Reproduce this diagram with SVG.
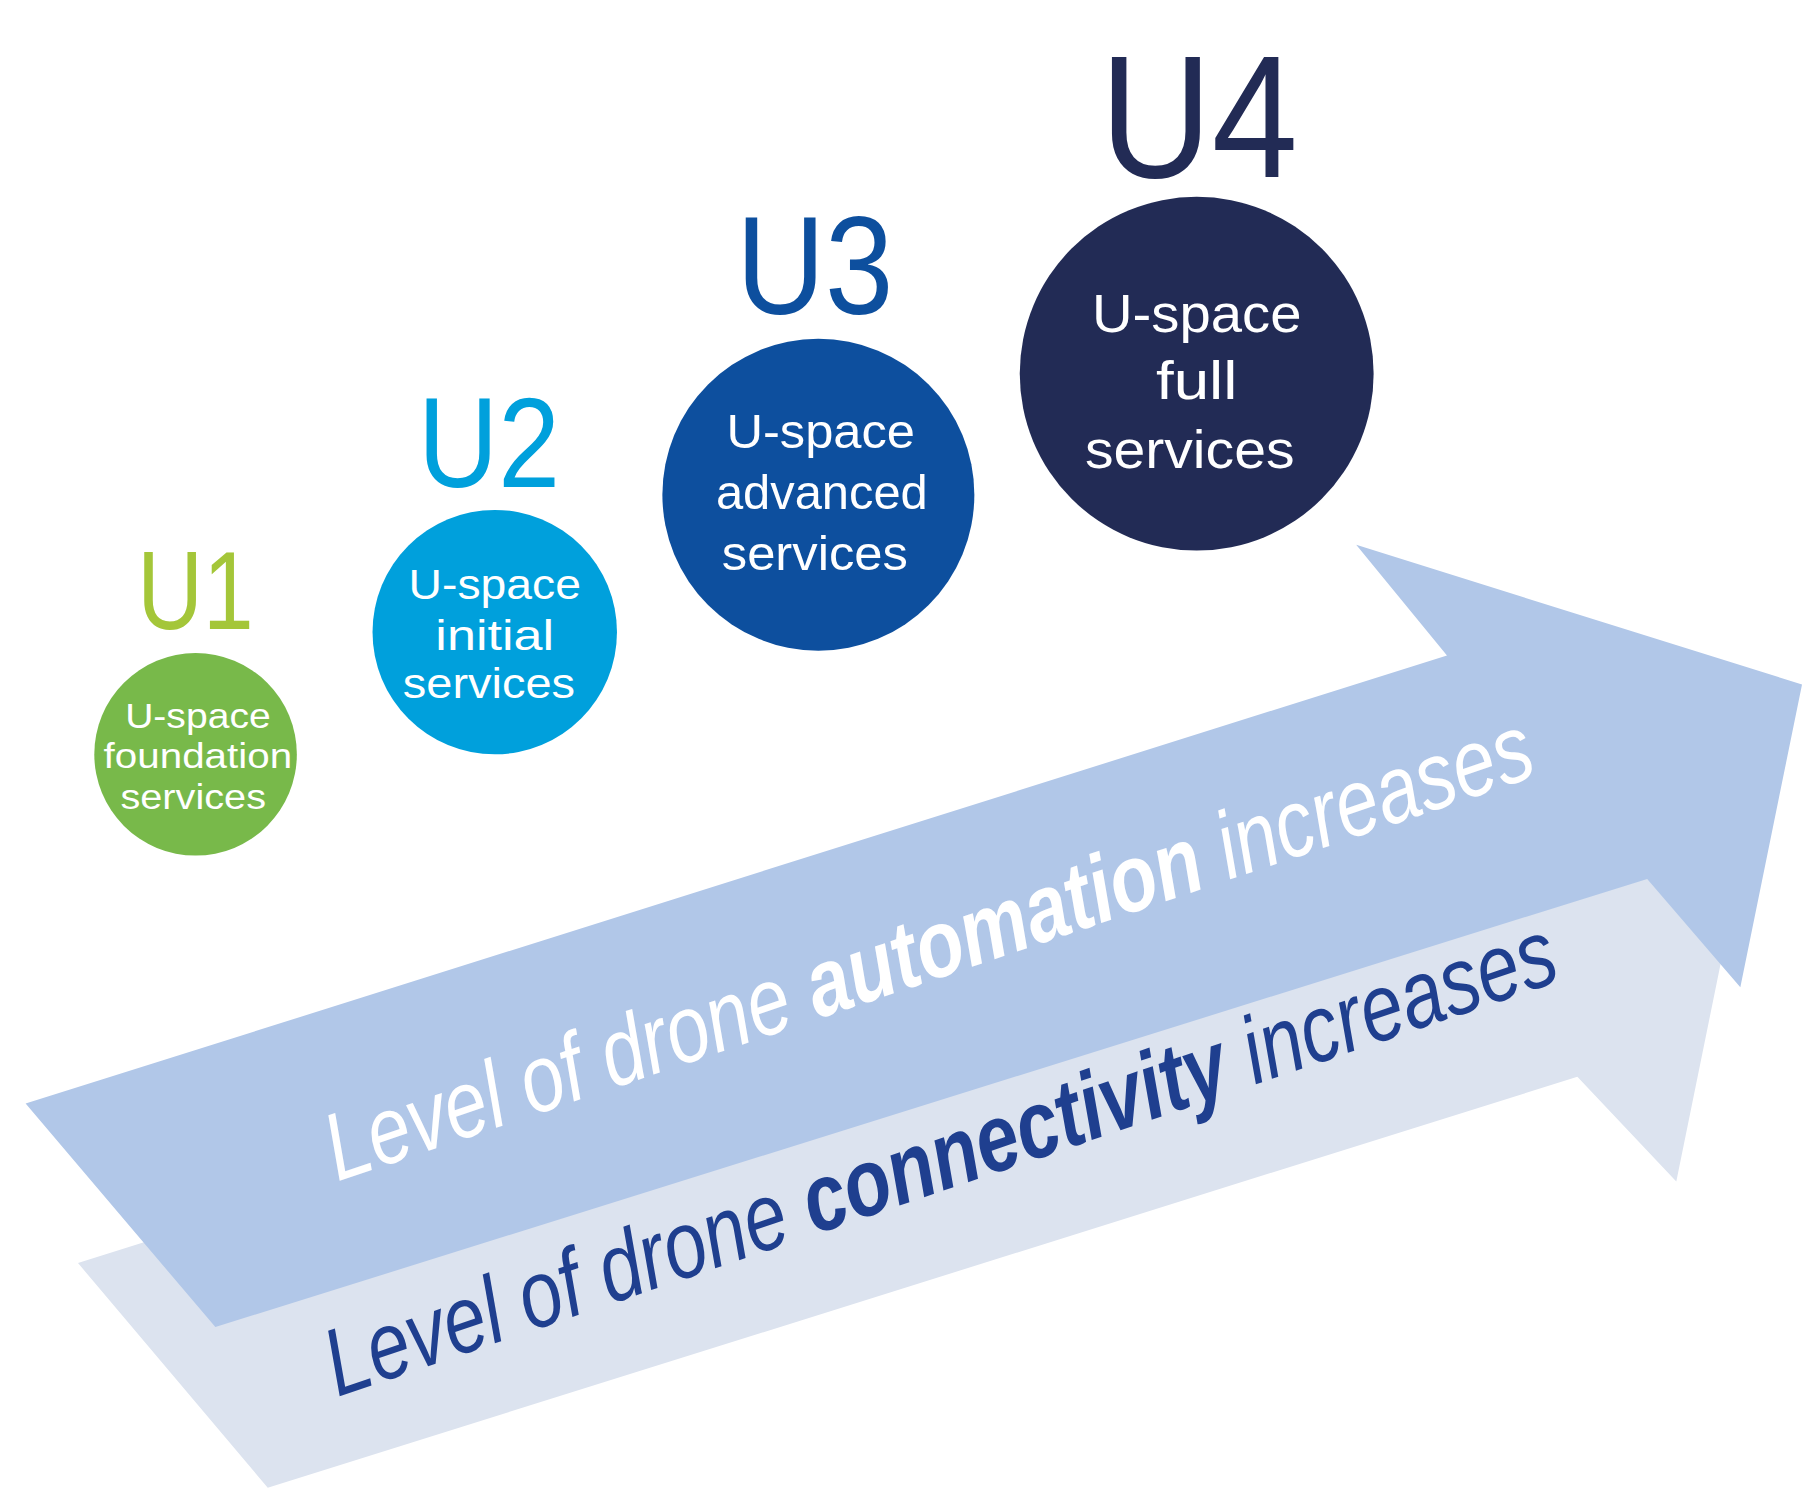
<svg xmlns="http://www.w3.org/2000/svg" width="1816" height="1512" viewBox="0 0 1816 1512">
<style>
.lbl{font-family:"Liberation Sans",Arial,sans-serif;text-anchor:middle}
.in{font-family:"Liberation Sans",Arial,sans-serif;fill:#fff;text-anchor:middle}
.ar{font-family:"Liberation Sans",Arial,sans-serif;font-style:italic}
</style>
<rect width="1816" height="1512" fill="#fff"/>
<g transform="scale(1.1641)">
<g id="connectors">
<polygon points="67,1085 1290,700 1210,605 1500,720 1440,1015 1355,925 230,1278" fill="#dce3ef"/>
<polygon points="22,948 1243,563 1165,468 1548,588 1495,848 1415,755 185,1140" fill="#b1c7e8"/>
<text class="ar" transform="translate(290,1015) rotate(-18.7)" font-size="82" fill="#fff" textLength="1090" lengthAdjust="spacingAndGlyphs">Level of drone <tspan font-weight="bold">automation</tspan> increases</text>
<text class="ar" transform="translate(290,1200) rotate(-18.8)" font-size="82" fill="#1f3f8f" textLength="1112" lengthAdjust="spacingAndGlyphs">Level of drone <tspan font-weight="bold">connectivity</tspan> increases</text>
</g>
<g id="u1">
<text class="lbl" x="168" y="540" font-size="96" fill="#a4c639" textLength="100" lengthAdjust="spacingAndGlyphs">U1</text>
<ellipse cx="168" cy="648" rx="87" ry="87" fill="#78b94a"/>
<text class="in" font-size="30"><tspan x="170" y="625" textLength="125" lengthAdjust="spacingAndGlyphs">U-space</tspan><tspan x="170" y="660" textLength="162" lengthAdjust="spacingAndGlyphs">foundation</tspan><tspan x="166" y="695" textLength="125" lengthAdjust="spacingAndGlyphs">services</tspan></text>
</g>
<g id="u2">
<text class="lbl" x="420" y="418" font-size="110" fill="#00a0dc" textLength="122" lengthAdjust="spacingAndGlyphs">U2</text>
<circle cx="425" cy="543" r="105" fill="#00a0dc"/>
<text class="in" font-size="37"><tspan x="425" y="515" textLength="148" lengthAdjust="spacingAndGlyphs">U-space</tspan><tspan x="425" y="558" textLength="102" lengthAdjust="spacingAndGlyphs">initial</tspan><tspan x="420" y="600" textLength="148" lengthAdjust="spacingAndGlyphs">services</tspan></text>
</g>
<g id="u3">
<text class="lbl" x="700" y="270" font-size="120" fill="#0d4f9e" textLength="135" lengthAdjust="spacingAndGlyphs">U3</text>
<circle cx="703" cy="425" r="134" fill="#0d4f9e"/>
<text class="in" font-size="42"><tspan x="705" y="385" textLength="162" lengthAdjust="spacingAndGlyphs">U-space</tspan><tspan x="706" y="437" textLength="182" lengthAdjust="spacingAndGlyphs">advanced</tspan><tspan x="700" y="490" textLength="160" lengthAdjust="spacingAndGlyphs">services</tspan></text>
</g>
<g id="u4">
<text class="lbl" x="1030" y="152" font-size="150" fill="#222b55" textLength="170" lengthAdjust="spacingAndGlyphs">U4</text>
<circle cx="1028" cy="321" r="152" fill="#222b55"/>
<text class="in" font-size="46"><tspan x="1028" y="285" textLength="180" lengthAdjust="spacingAndGlyphs">U-space</tspan><tspan x="1028" y="343" textLength="70" lengthAdjust="spacingAndGlyphs">full</tspan><tspan x="1022" y="402" textLength="180" lengthAdjust="spacingAndGlyphs">services</tspan></text>
</g>
</g>
</svg>
